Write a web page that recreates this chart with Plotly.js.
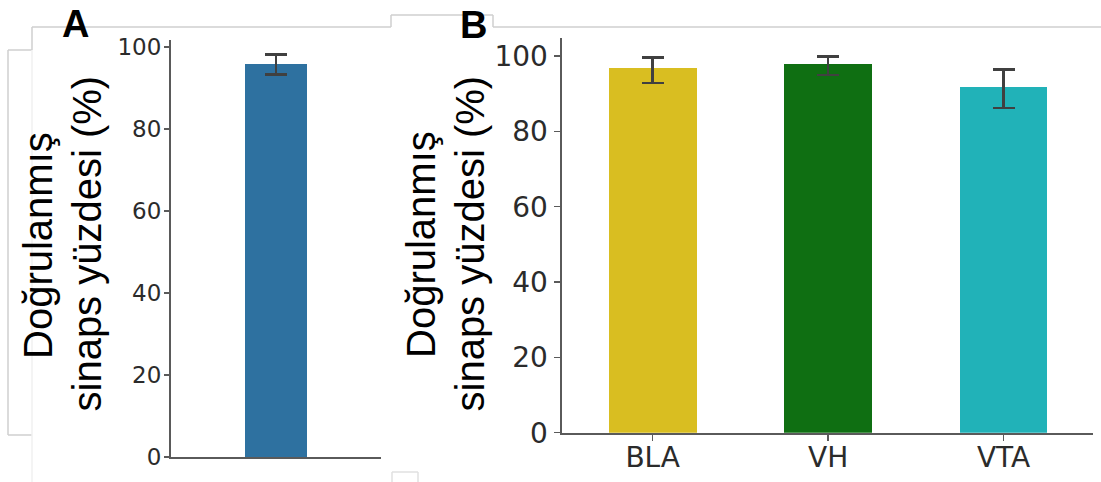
<!DOCTYPE html>
<html>
<head>
<meta charset="utf-8">
<script src="https://cdn.plot.ly/plotly-3.0.1.min.js"></script>
<style>html,body{margin:0;padding:0;background:#fff;}#chart{width:1101px;height:482px;}</style>
</head>
<body>
<div id="chart"></div>
<script>
// Panel A data
const catsA = ["Tümü"];
const valsA = [95.9];
const errPlusA = [2.2];
const errMinusA = [2.6];

// Panel B data
const catsB = ["BLA", "VH", "VTA"];
const valsB = [96.9, 97.9, 91.8];
const errPlusB = [2.7, 2.0, 4.7];
const errMinusB = [4.1, 2.9, 5.6];
const colorsB = ["#d9be21", "#0f6f12", "#21b2b8"];

const yTicks = [0, 20, 40, 60, 80, 100];
const titleLine1 = "Doğrulanmış";
const titleLine2 = "sinaps yüzdesi (%)";

const W = 1101, H = 482;
const px = v => v / W;
const py = v => 1 - v / H;

const errStyle = {color: "#404040", thickness: 2.6, width: 11};

const traces = [
  {
    type: "bar", x: catsA, y: valsA, xaxis: "x", yaxis: "y",
    width: 0.8,
    marker: {color: "#2e71a0", line: {width: 0}},
    error_y: Object.assign({type: "data", symmetric: false, array: errPlusA, arrayminus: errMinusA}, errStyle),
    hoverinfo: "y"
  },
  {
    type: "bar", x: catsB, y: valsB, xaxis: "x2", yaxis: "y2",
    width: 0.5,
    marker: {color: colorsB, line: {width: 0}},
    error_y: Object.assign({type: "data", symmetric: false, array: errPlusB, arrayminus: errMinusB}, errStyle),
    hoverinfo: "y"
  }
];

const axisCommon = {
  showgrid: false, zeroline: false, showline: true,
  linecolor: "#5a5a5a", linewidth: 2,
  ticks: "outside", tickcolor: "#5a5a5a", tickwidth: 1.5,
  fixedrange: true
};

const tickFontA = {family: "DejaVu Sans", size: 23, color: "#2b2b2b"};
const tickFontB = {family: "DejaVu Sans", size: 28, color: "#2b2b2b"};

const titleFont = {family: "Liberation Sans, Arial", size: 40, color: "#000"};
const labelFont = {family: "Liberation Sans, Arial", size: 38, color: "#000", weight: "bold"};

const lightLine = {type: "line", xref: "paper", yref: "paper", line: {color: "#cfcfcf", width: 1.5}};
function seg(x0, y0, x1, y1, c) {
  const s = JSON.parse(JSON.stringify(lightLine));
  s.x0 = px(x0); s.x1 = px(x1); s.y0 = py(y0); s.y1 = py(y1);
  if (c) s.line.color = c;
  return s;
}

const layout = {
  width: W, height: H,
  margin: {l: 0, r: 0, t: 0, b: 0, pad: 0},
  paper_bgcolor: "#ffffff", plot_bgcolor: "#ffffff",
  showlegend: false,
  bargap: 0,
  xaxis: Object.assign({}, axisCommon, {
    domain: [px(171), px(381)], range: [-1.35, 1.35],
    type: "category", showticklabels: false, ticks: ""
  }),
  yaxis: Object.assign({}, axisCommon, {
    domain: [py(457), py(40)], range: [0, 101.7],
    tickvals: yTicks, ticktext: yTicks.map(String), ticklen: 5,
    tickfont: tickFontA, anchor: "x", ticklabelstandoff: -2
  }),
  xaxis2: Object.assign({}, axisCommon, {
    domain: [px(561.5), px(1093)], range: [-0.52, 2.51],
    type: "category", ticklen: 6, tickfont: tickFontB, anchor: "y2", ticklabelstandoff: -7
  }),
  yaxis2: Object.assign({}, axisCommon, {
    domain: [py(432.7), py(38)], range: [0, 104.8],
    tickvals: yTicks, ticktext: yTicks.map(String), ticklen: 6,
    tickfont: tickFontB, anchor: "x2"
  }),
  annotations: [
    {text: titleLine1, textangle: -90, x: px(38), y: py(246), xref: "paper", yref: "paper", xanchor: "center", yanchor: "middle", showarrow: false, font: titleFont},
    {text: titleLine2, textangle: -90, x: px(86), y: py(243.5), xref: "paper", yref: "paper", xanchor: "center", yanchor: "middle", showarrow: false, font: titleFont},
    {text: titleLine1, textangle: -90, x: px(421), y: py(245), xref: "paper", yref: "paper", xanchor: "center", yanchor: "middle", showarrow: false, font: titleFont},
    {text: titleLine2, textangle: -90, x: px(469), y: py(243.5), xref: "paper", yref: "paper", xanchor: "center", yanchor: "middle", showarrow: false, font: titleFont},
    {text: "<b>A</b>", x: px(75), y: py(24), xref: "paper", yref: "paper", xanchor: "center", yanchor: "middle", showarrow: false, font: labelFont},
    {text: "<b>B</b>", x: px(473.5), y: py(25), xref: "paper", yref: "paper", xanchor: "center", yanchor: "middle", showarrow: false, font: labelFont}
  ],
  shapes: [
    seg(32, 27, 391, 27),
    seg(391, 27, 391, 15),
    seg(391, 15, 493, 15),
    seg(493, 15, 493, 27),
    seg(493, 27, 1101, 27),
    seg(32, 27, 32, 50),
    seg(8, 50, 32, 50),
    seg(8, 50, 8, 435),
    seg(8, 435, 32, 435),
    seg(32, 50, 32, 482, "#f0f0f0"),
    seg(392, 472, 418, 472, "#e0e0e0"),
    seg(392, 472, 392, 482, "#e0e0e0"),
    seg(418, 472, 418, 482, "#e0e0e0")
  ]
};

Plotly.newPlot("chart", traces, layout, {displayModeBar: false, staticPlot: true});
</script>
</body>
</html>
